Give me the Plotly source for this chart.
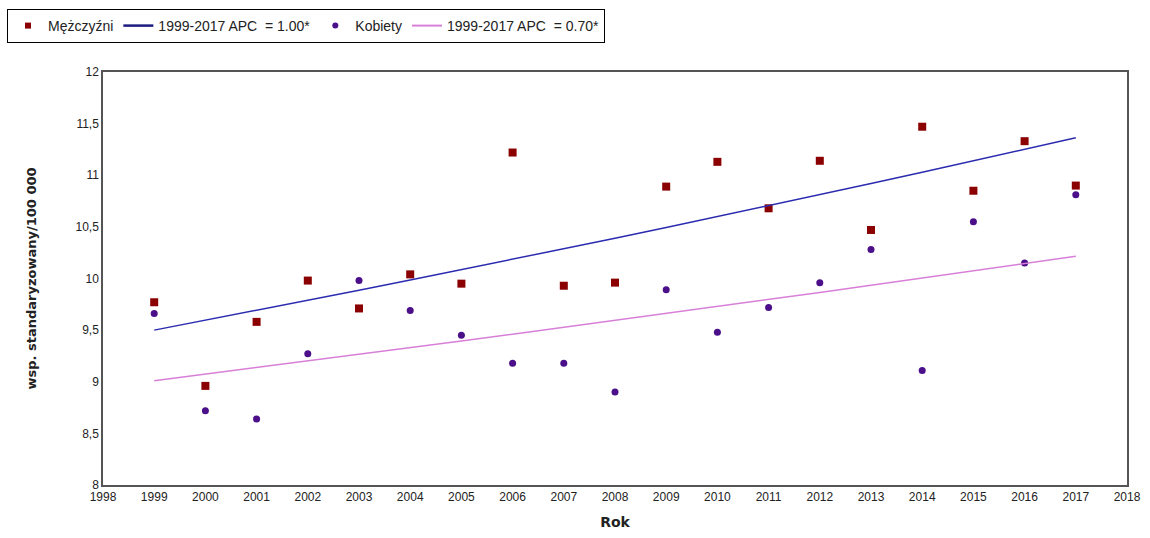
import plotly.graph_objects as go

# Standardised incidence per 100 000, by year
years = list(range(1999, 2018))
men = [9.77, 8.96, 9.58, 9.98, 9.71, 10.04, 9.95, 11.22, 9.93, 9.96,
       10.89, 11.13, 10.68, 11.14, 10.47, 11.47, 10.85, 11.33, 10.90]
women = [9.66, 8.72, 8.64, 9.27, 9.98, 9.69, 9.45, 9.18, 9.18, 8.90,
         9.89, 9.48, 9.72, 9.96, 10.28, 9.11, 10.55, 10.15, 10.81]

# Log-linear trend: start value in 1999 and annual percent change
men_trend_start, men_apc = 9.50, 1.00
women_trend_start, women_apc = 9.01, 0.70

x_ticks = list(range(1998, 2019))

men_trend = [men_trend_start * (1 + men_apc / 100) ** (y - years[0]) for y in years]
women_trend = [women_trend_start * (1 + women_apc / 100) ** (y - years[0]) for y in years]

font = "Liberation Sans, Arial, sans-serif"
bold_font = "DejaVu Sans, sans-serif"

MEN_COLOR = "#8b0000"
WOMEN_COLOR = "#4b0f8a"
MEN_LINE = "#2b2bb0"
WOMEN_LINE = "#d87fd8"

fig = go.Figure()

# Plotted marks (legend drawn separately with smaller symbols)
fig.add_trace(go.Scatter(
    x=years, y=men, mode="markers", showlegend=False,
    marker=dict(symbol="square", size=8, color=MEN_COLOR),
))
fig.add_trace(go.Scatter(
    x=years, y=men_trend, mode="lines", showlegend=False,
    line=dict(color=MEN_LINE, width=1.5),
))
fig.add_trace(go.Scatter(
    x=years, y=women, mode="markers", showlegend=False,
    marker=dict(symbol="circle", size=7, color=WOMEN_COLOR),
))
fig.add_trace(go.Scatter(
    x=years, y=women_trend, mode="lines", showlegend=False,
    line=dict(color=WOMEN_LINE, width=1.5),
))

# Legend entries
fig.add_trace(go.Scatter(
    x=[None], y=[None], mode="markers", name="Mężczyźni",
    marker=dict(symbol="square", size=6, color=MEN_COLOR),
))
fig.add_trace(go.Scatter(
    x=[None], y=[None], mode="lines", name=f"1999-2017 APC  = {men_apc:.2f}*",
    line=dict(color="#1a1a80", width=2.5),
))
fig.add_trace(go.Scatter(
    x=[None], y=[None], mode="markers", name="Kobiety",
    marker=dict(symbol="circle", size=6, color=WOMEN_COLOR),
))
fig.add_trace(go.Scatter(
    x=[None], y=[None], mode="lines", name=f"1999-2017 APC  = {women_apc:.2f}*",
    line=dict(color=WOMEN_LINE, width=2),
))

fig.update_layout(
    width=1150, height=538,
    margin=dict(l=103, r=23, t=72, b=53),
    paper_bgcolor="white", plot_bgcolor="white",
    separators=", ",
    font=dict(family=font, size=12, color="#222"),
    showlegend=True,
    legend=dict(
        orientation="h",
        xref="container", yref="container",
        x=7 / 1150, y=1 - 9 / 538, xanchor="left", yanchor="top",
        bordercolor="#000", borderwidth=1, bgcolor="white",
        font=dict(family=font, size=14, color="#222"),
        itemwidth=30,
    ),
    xaxis=dict(
        range=[1998, 2018], tickvals=x_ticks, ticktext=[str(v) for v in x_ticks],
        showgrid=False, zeroline=False, showline=True, mirror=True,
        linecolor="#555", linewidth=1.5, ticks="", automargin=False,
        title=dict(text="<b>Rok</b>", font=dict(family=bold_font, size=14, color="#222"), standoff=14),
    ),
    yaxis=dict(
        range=[8, 12], dtick=0.5,
        showgrid=False, zeroline=False, showline=True, mirror=True,
        linecolor="#555", linewidth=1.5, ticks="", automargin=False,
        title=dict(text="<b>wsp. standaryzowany/100 000</b>",
                   font=dict(family=bold_font, size=13, color="#222"), standoff=36),
    ),
)

fig.write_html("out.html")
